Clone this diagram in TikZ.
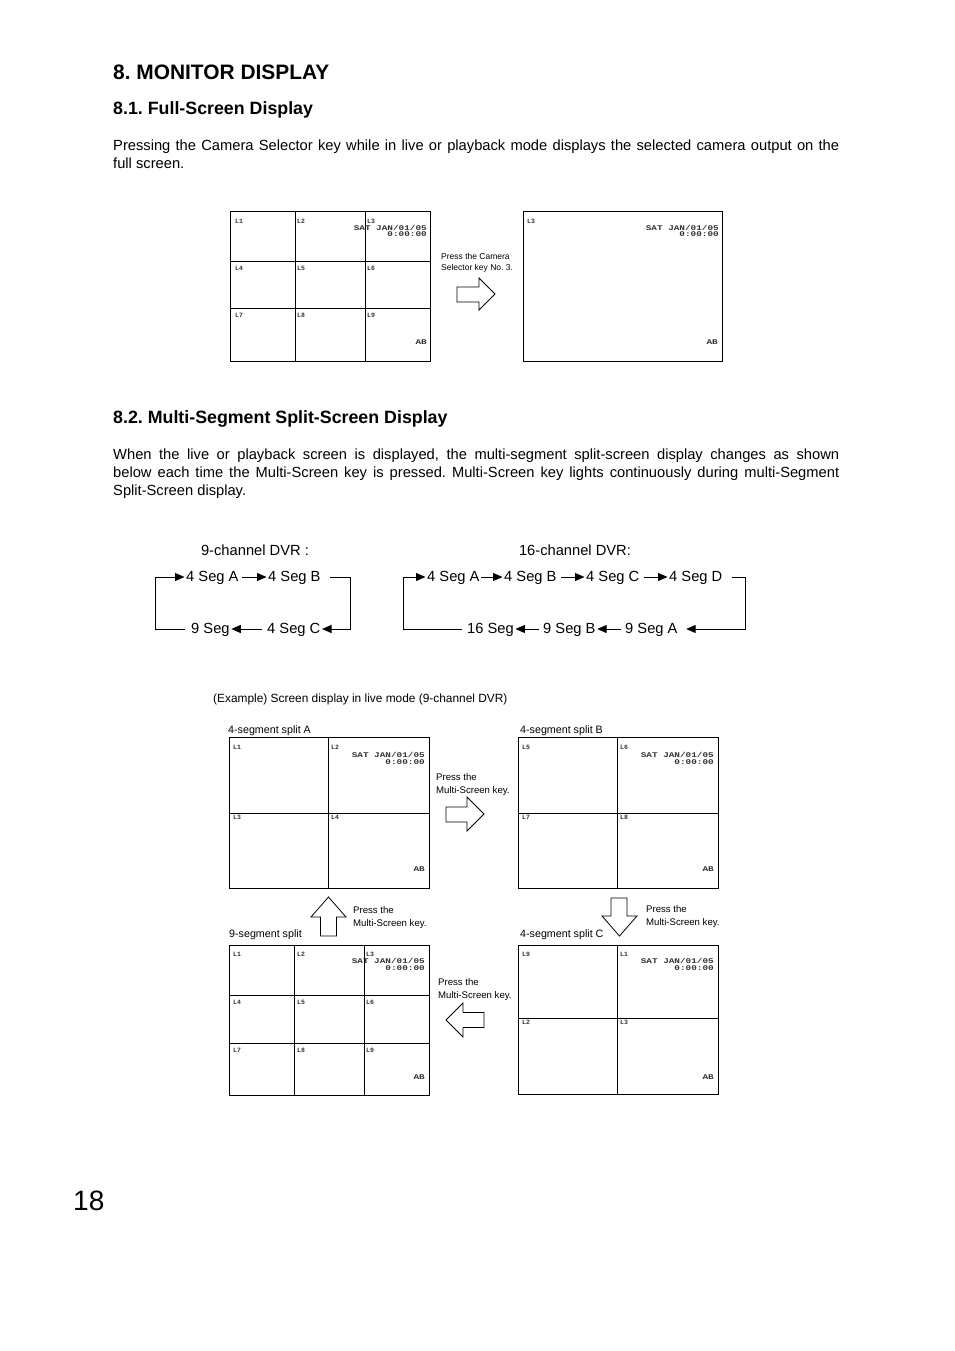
\documentclass[tikz,border=0pt]{standalone}
\usepackage{fontspec}
\setmainfont{Liberation Sans}
\newfontfamily\osdfont{Liberation Mono}
\newfontfamily\osdwide[FakeStretch=1.3]{Liberation Mono}
\usetikzlibrary{arrows.meta}
\frenchspacing

\newcommand\bodysize{\fontsize{14.7}{18}\selectfont}
\newcommand\osdbig{\osdwide\bfseries\fontsize{7.2}{8}\selectfont}
\newcommand\osdsmall{\osdfont\bfseries\fontsize{6.5}{7}\selectfont}
\newcommand\notesize{\fontsize{9.6}{13}\selectfont}

\tikzset{
  screen/.style={line width=1pt},
  lbl/.style={font=\osdsmall, text=black!80, inner sep=0pt, anchor=west},
  osd/.style={font=\osdbig, text=black!80, inner sep=0pt, anchor=east},
  seg/.style={font=\bodysize, inner sep=1.5pt, text height=11pt, text depth=3pt, anchor=west},
  segarrow/.style={line width=1pt, -{Triangle[length=9.5pt,width=8pt]}},
  hollow/.style={draw, line width=0.8pt, line join=miter, fill=white},
  note/.style={font=\notesize, align=left, inner sep=0pt, anchor=north west},
  caption/.style={font=\fontsize{10.7}{12}\selectfont, inner sep=0pt, anchor=base west},
}

\begin{document}
\begin{tikzpicture}[x=1pt,y=-1pt]
	\useasboundingbox[fill=white] (0,0) rectangle (954,1351);
	
	% headings and paragraphs
	\node[anchor=base west, inner sep=0pt, font=\bfseries\fontsize{20.9}{24}\selectfont] (title) at (113,79.5) {8. MONITOR DISPLAY};
	\node[anchor=base west, inner sep=0pt, font=\bfseries\fontsize{17.8}{21}\selectfont] (sec1) at (113,115) {8.1. Full-Screen Display};
	\node[anchor=base west, inner sep=0pt, text width=726pt, align=justify, font=\bodysize] (par1) at (113,151) {Pressing the Camera Selector key while in live or playback mode displays the selected camera output on the\linebreak full screen.};
	\node[anchor=base west, inner sep=0pt, font=\bfseries\fontsize{17.8}{21}\selectfont] (sec2) at (113,423) {8.2. Multi-Segment Split-Screen Display};
	\node[anchor=base west, inner sep=0pt, text width=726pt, align=justify, font=\bodysize] (par2) at (113,459) {When the live or playback screen is displayed, the multi-segment split-screen display changes as shown\linebreak below each time the Multi-Screen key is pressed. Multi-Screen key lights continuously during multi-Segment\linebreak Split-Screen display.};
	
	% full-screen: nine-way split
	\draw[screen] (230,211) rectangle (430,361);
	\draw[screen] (295,211) -- (295,361) (365,211) -- (365,361) (230,261) -- (430,261) (230,308) -- (430,308);
	\node[lbl] (n1) at (235,221) {L1};
	\node[lbl] (n2) at (297,221) {L2};
	\node[lbl] (n3) at (367,221) {L3};
	\node[lbl] (n4) at (235,268) {L4};
	\node[lbl] (n5) at (297,268) {L5};
	\node[lbl] (n6) at (367,268) {L6};
	\node[lbl] (n7) at (235,315) {L7};
	\node[lbl] (n8) at (297,315) {L8};
	\node[lbl] (n9) at (367,315) {L9};
	\node[osd] (ndate) at (427,227.5) {SAT JAN/01/05};
	\node[osd] (ntime) at (427,234.5) {0:00:00};
	\node[osd] (nab) at (427,342) {AB};
	
	\node[note, font=\fontsize{8.5}{11}\selectfont] (camnote) at (441,253) {Press the Camera\\Selector key No. 3.};
	\draw[hollow] (457,287) -- (479,287) -- (479,278) -- (495,294) -- (479,310) -- (479,302) -- (457,302) -- cycle;
	
	% full-screen: camera 3
	\draw[screen] (523,211) rectangle (722,361);
	\node[lbl] (f3) at (527,221) {L3};
	\node[osd] (fdate) at (719,227.5) {SAT JAN/01/05};
	\node[osd] (ftime) at (719,234.5) {0:00:00};
	\node[osd] (fab) at (718,342) {AB};
	
	% segment sequences
	\node[font=\bodysize] (ch9) at (255,550) {9-channel DVR :};
	\node[seg] (a9) at (184.5,577) {4 Seg A};
	\node[seg] (b9) at (266.5,577) {4 Seg B};
	\node[seg] (c9) at (265.5,629) {4 Seg C};
	\node[seg] (d9) at (189.5,629) {9 Seg};
	\coordinate (r9) at (350,577);
	\coordinate (l9) at (155,629);
	\draw[segarrow] ([xshift=2pt]a9.east) -- (b9);
	\draw[segarrow] ([xshift=8pt]b9.east) -- (r9) |- (c9);
	\draw[segarrow] ([xshift=-4pt]c9.west) -- (d9);
	\draw[segarrow] ([xshift=-5pt]d9.west) -- (l9) |- (a9);
	
	\node[font=\bodysize] (ch16) at (575,550) {16-channel DVR:};
	\node[seg] (a16) at (425.5,577) {4 Seg A};
	\node[seg] (b16) at (502.5,577) {4 Seg B};
	\node[seg] (c16) at (584.5,577) {4 Seg C};
	\node[seg] (d16) at (667.5,577) {4 Seg D};
	\node[seg] (e16) at (623.5,629) {9 Seg A};
	\node[seg] (f16) at (541.5,629) {9 Seg B};
	\node[seg] (g16) at (465.5,629) {16 Seg};
	\coordinate (r16) at (745,577);
	\coordinate (l16) at (403,629);
	\draw[segarrow] (a16) -- (b16);
	\draw[segarrow] ([xshift=3pt]b16.east) -- (c16);
	\draw[segarrow] ([xshift=3pt]c16.east) -- (d16);
	\draw[segarrow] ([xshift=8pt]d16.east) -- (r16) |- ([xshift=7pt]e16.east);
	\draw[segarrow] ([xshift=-3pt]e16.west) -- (f16);
	\draw[segarrow] ([xshift=-3pt]f16.west) -- (g16);
	\draw[segarrow] ([xshift=-4pt]g16.west) -- (l16) |- (a16);
	
	% example screens
	\node[anchor=base west, inner sep=0pt, font=\fontsize{11.9}{14}\selectfont] (example) at (213,702) {(Example) Screen display in live mode (9-channel DVR)};
	
	\node[caption] (capA) at (228,733) {4-segment split A};
	\draw[screen] (229,737) rectangle (429,888);
	\draw[screen] (328,737) -- (328,888) (229,813) -- (429,813);
	\node[lbl] (a1) at (233,747) {L1};
	\node[lbl] (a2) at (331,747) {L2};
	\node[lbl] (a3) at (233,817) {L3};
	\node[lbl] (a4) at (331,817) {L4};
	\node[osd] (adate) at (425,755) {SAT JAN/01/05};
	\node[osd] (atime) at (425,762) {0:00:00};
	\node[osd] (aab) at (425,869) {AB};
	
	\node[note] (noteAB) at (436,773) {Press the\\Multi-Screen key.};
	\draw[hollow] (446,807) -- (467,807) -- (467,797) -- (484,814) -- (467,831) -- (467,822) -- (446,822) -- cycle;
	
	\node[caption] (capB) at (520,733) {4-segment split B};
	\draw[screen] (518,737) rectangle (718,888);
	\draw[screen] (617,737) -- (617,888) (518,813) -- (718,813);
	\node[lbl] (b5) at (522,747) {L5};
	\node[lbl] (b6) at (620,747) {L6};
	\node[lbl] (b7) at (522,817) {L7};
	\node[lbl] (b8) at (620,817) {L8};
	\node[osd] (bdate) at (714,755) {SAT JAN/01/05};
	\node[osd] (btime) at (714,762) {0:00:00};
	\node[osd] (bab) at (714,869) {AB};
	
	\node[note] (noteBC) at (646,905) {Press the\\Multi-Screen key.};
	\draw[hollow] (611,898) -- (627,898) -- (627,916) -- (637,916) -- (619.5,936) -- (602,916) -- (611,916) -- cycle;
	
	\node[note] (noteNA) at (353,906) {Press the\\Multi-Screen key.};
	\draw[hollow] (320.5,936) -- (320.5,917) -- (311,917) -- (328.5,897) -- (346,917) -- (336.5,917) -- (336.5,936) -- cycle;
	
	\node[caption] (capN) at (229,937) {9-segment split};
	\draw[screen] (229,945) rectangle (429,1095);
	\draw[screen] (294,945) -- (294,1095) (364,945) -- (364,1095) (229,995) -- (429,995) (229,1043) -- (429,1043);
	\node[lbl] (m1) at (233,954) {L1};
	\node[lbl] (m2) at (297,954) {L2};
	\node[lbl] (m3) at (366,954) {L3};
	\node[lbl] (m4) at (233,1002) {L4};
	\node[lbl] (m5) at (297,1002) {L5};
	\node[lbl] (m6) at (366,1002) {L6};
	\node[lbl] (m7) at (233,1050) {L7};
	\node[lbl] (m8) at (297,1050) {L8};
	\node[lbl] (m9) at (366,1050) {L9};
	\node[osd] (mdate) at (425,961) {SAT JAN/01/05};
	\node[osd] (mtime) at (425,968) {0:00:00};
	\node[osd] (mab) at (425,1077) {AB};
	
	\node[note] (noteCN) at (438,978) {Press the\\Multi-Screen key.};
	\draw[hollow] (446,1020) -- (463,1003) -- (463,1012.5) -- (484,1012.5) -- (484,1027.5) -- (463,1027.5) -- (463,1037) -- cycle;
	
	\node[caption] (capC) at (520,937) {4-segment split C};
	\draw[screen] (518,945) rectangle (718,1094);
	\draw[screen] (617,945) -- (617,1094) (518,1018) -- (718,1018);
	\node[lbl] (c9s) at (522,954) {L9};
	\node[lbl] (c1) at (620,954) {L1};
	\node[lbl] (c2) at (522,1022) {L2};
	\node[lbl] (c3) at (620,1022) {L3};
	\node[osd] (cdate) at (714,961) {SAT JAN/01/05};
	\node[osd] (ctime) at (714,968) {0:00:00};
	\node[osd] (cab) at (714,1077) {AB};
	
	\node[anchor=base west, inner sep=0pt, font=\fontsize{28}{30}\selectfont] (pagenum) at (73,1210) {18};
	
\end{tikzpicture}
\end{document}
